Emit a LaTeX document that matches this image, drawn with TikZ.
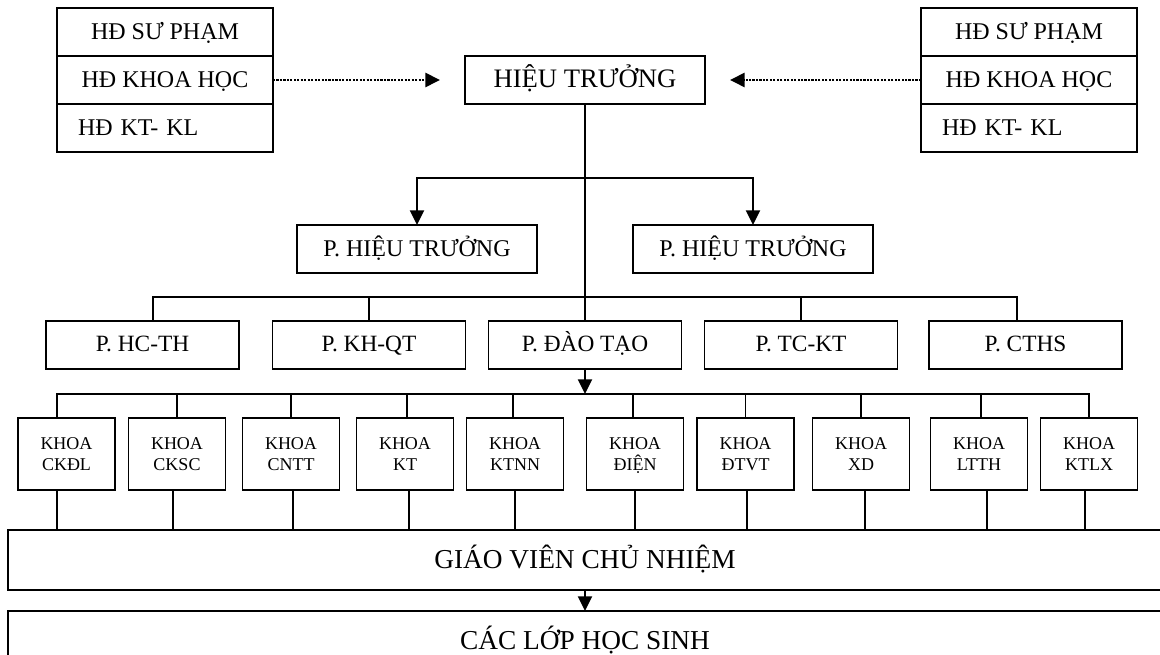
\documentclass[tikz,border=0pt]{standalone}
\usepackage{fontspec}
\setmainfont{Liberation Serif}
\usetikzlibrary{positioning, arrows.meta, calc}

\begin{document}
\begin{tikzpicture}[
  x=0.75pt, y=-0.75pt,
  line width=1.45pt,
  >={Triangle[length=11pt, width=10.5pt]},
  box/.style={draw, rectangle, inner sep=0pt, outer sep=0pt, align=center},
  row/.style={box, minimum width=162pt, minimum height=36pt,
              text height=11.9pt, text depth=1.2pt,
              font=\fontsize{18}{20}\selectfont},
  rowl/.style={row, align=left, text width=130.5pt, inner xsep=15.75pt},
  head/.style={box, minimum width=180pt, minimum height=36pt,
               text height=13.2pt, text depth=1.3pt,
               font=\fontsize{20}{22}\selectfont},
  deputy/.style={box, minimum width=180pt, minimum height=36pt,
                 text height=11.9pt, text depth=1.2pt,
                 font=\fontsize{18}{20}\selectfont},
  office/.style={box, minimum width=144.75pt, minimum height=36pt,
                 text height=11.6pt, text depth=1.2pt,
                 font=\fontsize{17.5}{20}\selectfont},
  faculty/.style={box, minimum width=72.75pt, minimum height=54pt,
                  font=\fontsize{13.5}{15.75}\selectfont},
  wide/.style={box, minimum width=865.5pt, minimum height=45pt,
               text height=13.6pt, text depth=1.4pt,
               font=\fontsize{20.5}{22}\selectfont},
  link/.style={->, line width=2pt, dash pattern=on 1.6pt off 1pt,
               shorten >=18.75pt},
]
\useasboundingbox (0,0) rectangle (1160,655);

% ---- Councils, left and right -----------------------------------------
\node[row] (lsp) at (165,32) {HĐ SƯ PHẠM};
\node[row, below=0pt of lsp] (lkh) {HĐ KHOA HỌC};
\node[rowl, below=0pt of lkh] (lkt) {HĐ KT- KL};

\node[row] (rsp) at (1029,32) {HĐ SƯ PHẠM};
\node[row, below=0pt of rsp] (rkh) {HĐ KHOA HỌC};
\node[rowl, below=0pt of rkh] (rkt) {HĐ KT- KL};

% ---- Principal and deputies --------------------------------------------
\node[head] (ht) at (585,80) {HIỆU TRƯỞNG};
\node[deputy] (pht1) at (417,249) {P. HIỆU TRƯỞNG};
\node[deputy] (pht2) at (753,249) {P. HIỆU TRƯỞNG};

\draw[link] (lkh) -- (ht);
\draw[link] (rkh) -- (ht);

% ---- Offices ------------------------------------------------------------
\node[office] (hcth) at (142.5,345) {P. HC-TH};
\node[office] (khqt) at (369,345) {P. KH-QT};
\node[office] (pdt)  at (585,345) {P. ĐÀO TẠO};
\node[office] (tckt) at (801,345) {P. TC-KT};
\node[office] (cths) at (1025.5,345) {P. CTHS};

\coordinate (fork) at (585,178);
\coordinate (pbus) at (585,297);
\draw (ht.south) -- (pdt.north);
\draw[->] (fork) -| (pht1.north);
\draw[->] (fork) -| (pht2.north);
\draw (pbus) -| ($(hcth.north)+(10.5,0)$);
\draw (pbus) -| (khqt.north);
\draw (pbus) -| (tckt.north);
\draw (pbus) -| ($(cths.north)+(-8.5,0)$);

% ---- Homeroom teachers and classes -------------------------------------
\node[wide] (gvcn) at (585,560) {GIÁO VIÊN CHỦ NHIỆM};
\node[wide] (clhs) at (585,641) {CÁC LỚP HỌC SINH};
\draw[->] (gvcn) -- (clhs);

% ---- Faculties (top / bottom drop offsets) -----------------------------
\coordinate (kbus) at (585,394);
\draw[->] (pdt.south) -- (kbus);
\foreach \x/\t/\a/\b [count=\i] in {66.5/CKĐL/-9.5/-9.5, 177/CKSC/0/-4,
    291/CNTT/0/2, 405/KT/2/4, 515/KTNN/-2/0, 635/ĐIỆN/-2/0,
    745.5/ĐTVT/0/1.5, 861/XD/0/4, 979/LTTH/2/8, 1089/KTLX/0/-4} {
  \node[faculty] (k\i) at (\x,454) {KHOA\\\raisebox{0pt}[\height][0pt]{\t}};
  \draw (kbus) -| ($(k\i.north)+(\a,0)$);
  \draw ($(k\i.south)+(\b,0)$) coordinate (d) -- (d |- gvcn.north);
}

\end{tikzpicture}
\end{document}
